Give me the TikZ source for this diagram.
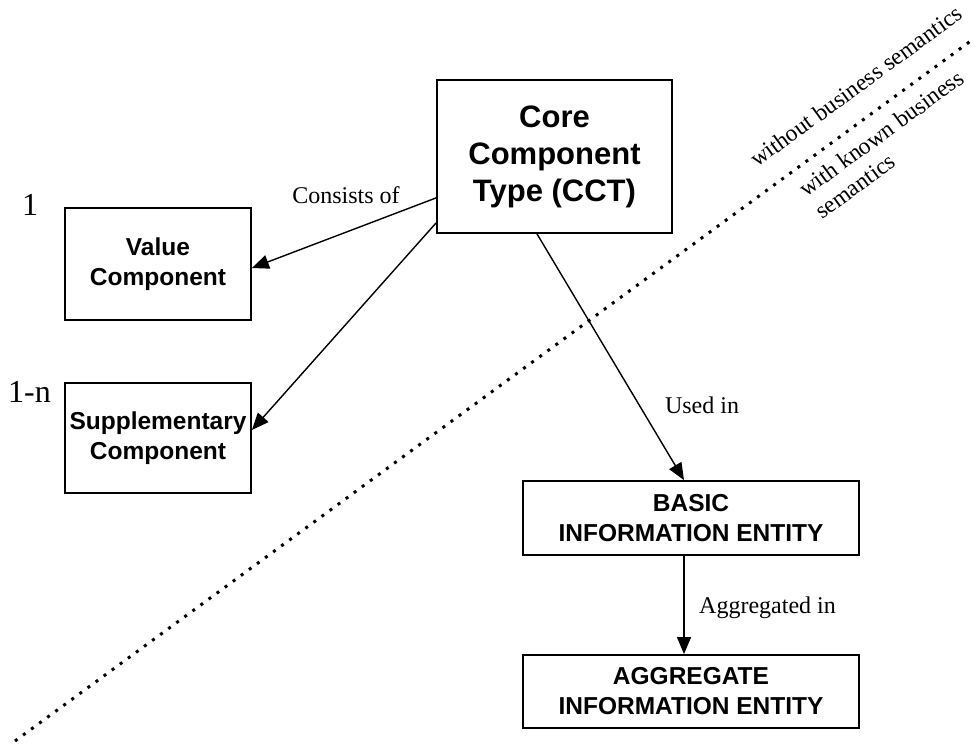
\documentclass[tikz,border=0pt]{standalone}
\usepackage{fontspec}
\setmainfont{Liberation Serif}
\setsansfont{Liberation Sans}
\usetikzlibrary{arrows.meta}
\begin{document}
\begin{tikzpicture}[x=1pt,y=-1pt,
  box/.style={draw,line width=1.8pt,align=center,inner sep=0pt,font=\sffamily\bfseries},
  smallbox/.style={box,font=\sffamily\bfseries\fontsize{24.5}{30}\selectfont},
  conn/.style={line width=1.4pt,-{Triangle[length=17pt,width=14pt]}},
  lbl/.style={font=\fontsize{24}{28}\selectfont,inner sep=0pt},
  rlbl/.style={lbl,font=\fontsize{23.5}{27}\selectfont,rotate=36,anchor=base west},
  sep/.style={line width=3pt,dash pattern=on 3pt off 7pt}]
\useasboundingbox (0,0) rectangle (976,744);
% separator
\coordinate (s1) at (15,741);
\coordinate (s2) at (972,40);
\draw[sep] (s1) -- (s2);
\node[rlbl] (t1) at (757,168) {without business semantics};
\node[rlbl] (t2) at (806,198) {with known business};
\node[rlbl] (t3) at (822,220) {semantics};
% boxes
\node[box,minimum width=235pt,minimum height=153pt,font=\sffamily\bfseries\fontsize{31}{37}\selectfont] (cct) at (554.5,156.5) {Core\\Component\\Type (CCT)};
\node[smallbox,minimum width=186pt,minimum height=112pt] (val) at (158,264) {Value\\Component};
\node[smallbox,minimum width=186pt,minimum height=110pt] (sup) at (158,438) {Supplementary\\Component};
\node[smallbox,minimum width=336pt,minimum height=74pt] (basic) at (691,518) {BASIC\\INFORMATION ENTITY};
\node[smallbox,minimum width=336pt,minimum height=73pt] (agg) at (691,691.5) {AGGREGATE\\INFORMATION ENTITY};
% connectors
\draw[conn] ([yshift=36pt]cct.south west) -- ([yshift=-4pt]val.east);
\draw[conn] ([yshift=11pt]cct.south west) -- ([yshift=8pt]sup.east);
\draw[conn] ([xshift=-17.5pt]cct.south) -- ([xshift=-7pt]basic.north);
\draw[conn] ([xshift=-7pt]basic.south) -- ([xshift=-7pt]agg.north);
% labels
\node[lbl,anchor=base] (l1) at (346,203) {Consists of};
\node[lbl,anchor=base] (l2) at (702,413) {Used in};
\node[lbl,anchor=base west] (l3) at (699,613) {Aggregated in};
\node[lbl,font=\fontsize{32}{36}\selectfont,anchor=base west] (n1) at (22,215) {1};
\node[lbl,font=\fontsize{32}{36}\selectfont,anchor=base west] (n2) at (8,402) {1-n};
\end{tikzpicture}
\end{document}
